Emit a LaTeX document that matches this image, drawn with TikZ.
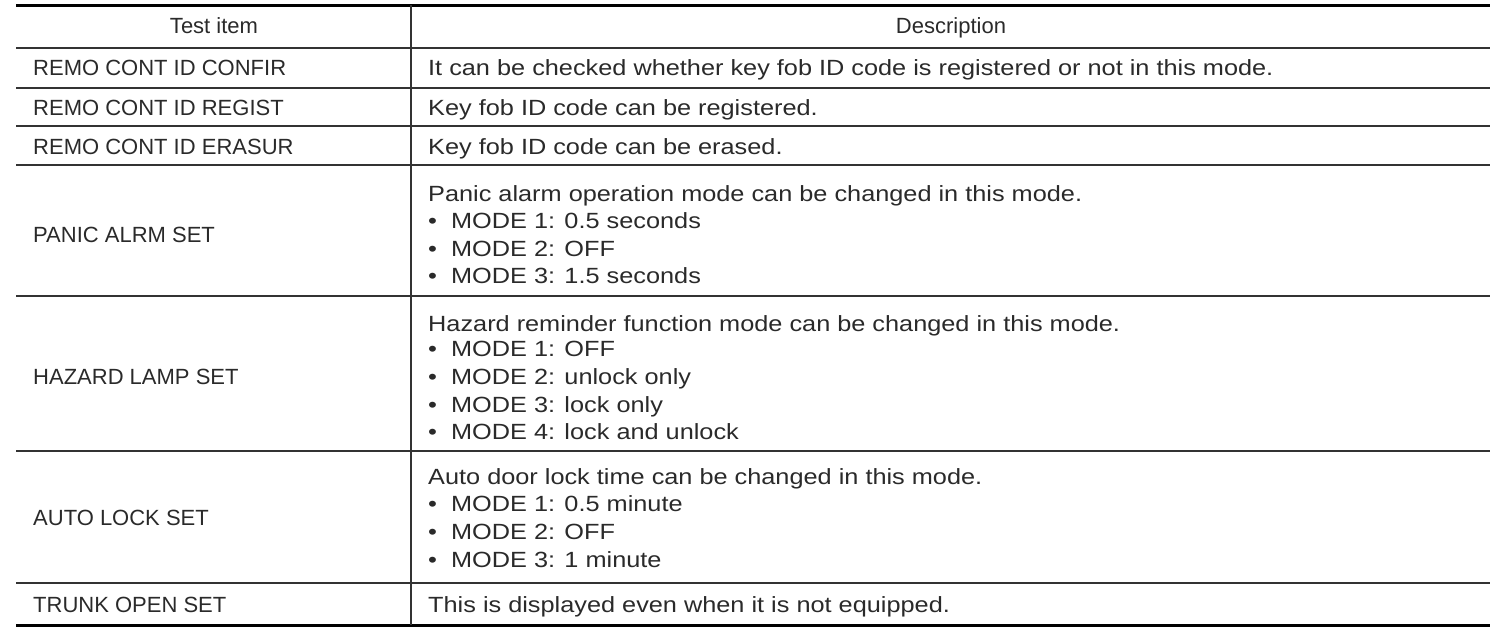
\documentclass[tikz,border=0pt]{standalone}
\usepackage{fontspec}
\setmainfont{Liberation Sans}
\usepackage{graphicx}
\definecolor{txt}{HTML}{2A2A2A}
\newcommand{\dsc}[1]{\scalebox{1.15}[1]{#1}}
\begin{document}
\begin{tikzpicture}[x=1pt,y=-1pt,
  t/.style={anchor=base west,inner sep=0pt,font=\fontsize{22}{26}\selectfont,text=txt},
  h/.style={anchor=base,inner sep=0pt,font=\fontsize{22}{26}\selectfont,text=txt},
  thin/.style={draw=black!80,line width=1.2pt},
  thick/.style={draw=black,line width=3pt}]
\useasboundingbox (0,0) rectangle (1505,637);
\draw[thick] (16,5) -- (1490,5);
\draw[thick] (16,625) -- (1490,625);
\foreach \y in {48,88,126,165,296,451,583} \draw[thin] (16,\y) -- (1490,\y);
\draw[thin] (411,5) -- (411,625);
\node[h] (h1) at (214,33) {Test item};
\node[h] (h2) at (951,33) {Description};
\node[t] (a1) at (33,75) {REMO CONT ID CONFIR};
\node[t] (a2) at (33,115) {REMO CONT ID REGIST};
\node[t] (a3) at (33,154) {REMO CONT ID ERASUR};
\node[t] (a4) at (33,242) {PANIC ALRM SET};
\node[t] (a5) at (33,384) {HAZARD LAMP SET};
\node[t] (a6) at (33,525) {AUTO LOCK SET};
\node[t] (a7) at (33,612) {TRUNK OPEN SET};
\node[t] (d1) at (428,75) {\dsc{It can be checked whether key fob ID code is registered or not in this mode.}};
\node[t] (d2) at (428,115) {\dsc{Key fob ID code can be registered.}};
\node[t] (d3) at (428,154) {\dsc{Key fob ID code can be erased.}};
\node[t] (d4a) at (428,201) {\dsc{Panic alarm operation mode can be changed in this mode.}};
\node[t] (d4b) at (428,228) {\dsc{\textbullet\ \ MODE 1: 0.5 seconds}};
\node[t] (d4c) at (428,256) {\dsc{\textbullet\ \ MODE 2: OFF}};
\node[t] (d4d) at (428,283) {\dsc{\textbullet\ \ MODE 3: 1.5 seconds}};
\node[t] (d5a) at (428,331) {\dsc{Hazard reminder function mode can be changed in this mode.}};
\node[t] (d5b) at (428,356) {\dsc{\textbullet\ \ MODE 1: OFF}};
\node[t] (d5c) at (428,384) {\dsc{\textbullet\ \ MODE 2: unlock only}};
\node[t] (d5d) at (428,412) {\dsc{\textbullet\ \ MODE 3: lock only}};
\node[t] (d5e) at (428,439) {\dsc{\textbullet\ \ MODE 4: lock and unlock}};
\node[t] (d6a) at (428,484) {\dsc{Auto door lock time can be changed in this mode.}};
\node[t] (d6b) at (428,511) {\dsc{\textbullet\ \ MODE 1: 0.5 minute}};
\node[t] (d6c) at (428,539) {\dsc{\textbullet\ \ MODE 2: OFF}};
\node[t] (d6d) at (428,567) {\dsc{\textbullet\ \ MODE 3: 1 minute}};
\node[t] (d7) at (428,612) {\dsc{This is displayed even when it is not equipped.}};
\end{tikzpicture}
\end{document}
